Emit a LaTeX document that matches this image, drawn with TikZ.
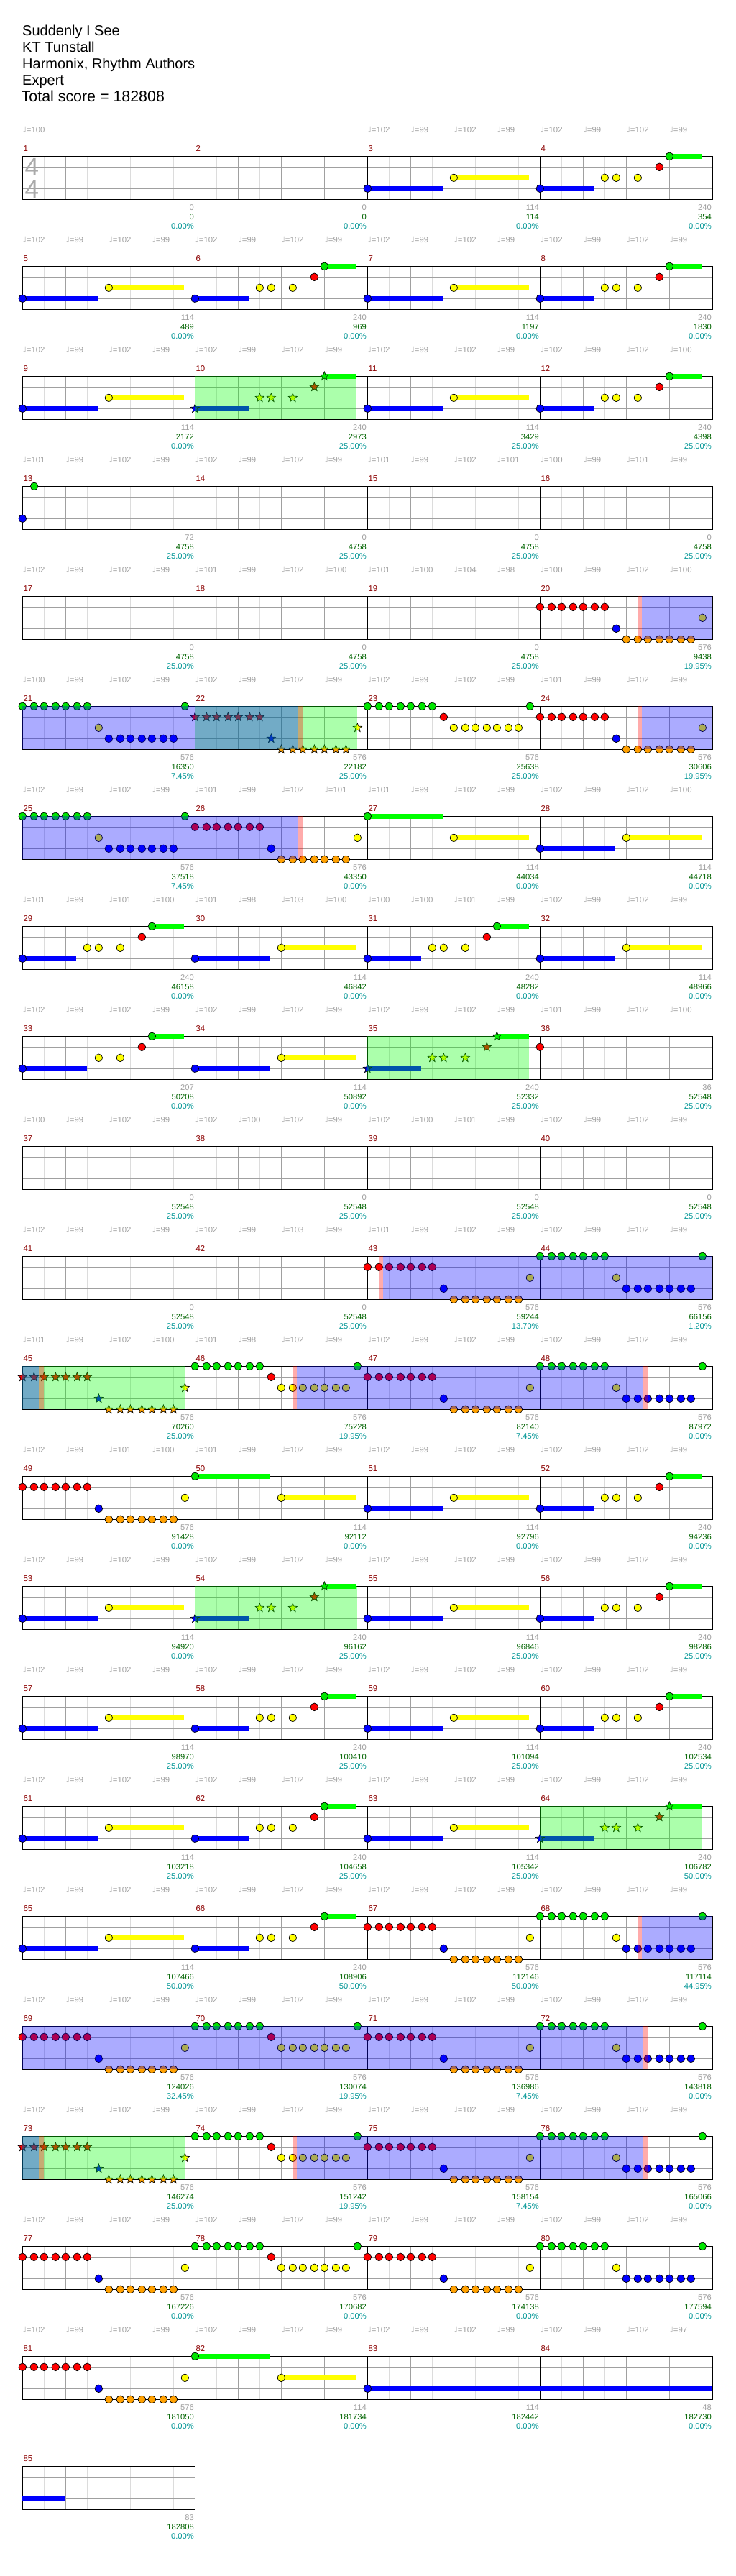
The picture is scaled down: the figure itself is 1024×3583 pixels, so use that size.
\documentclass[tikz,border=0pt]{standalone}
\usepackage{fontspec}
\setmainfont{Liberation Sans}
\newfontfamily\symf{DejaVu Sans}
\usetikzlibrary{shapes.geometric}
\definecolor{nG}{RGB}{0,230,0}
\definecolor{sG}{RGB}{0,255,0}
\definecolor{nR}{RGB}{255,0,0}
\definecolor{nY}{RGB}{255,255,0}
\definecolor{nB}{RGB}{0,0,255}
\definecolor{nO}{RGB}{255,160,0}
\definecolor{ovG}{RGB}{0,255,0}
\definecolor{ovB}{RGB}{0,0,255}
\definecolor{ovR}{RGB}{255,0,0}
\definecolor{gridD}{RGB}{160,160,160}
\definecolor{gridL}{RGB}{220,220,220}
\definecolor{mnum}{RGB}{139,0,0}
\definecolor{tgray}{RGB}{160,160,160}
\definecolor{tgreen}{RGB}{0,100,0}
\definecolor{tteal}{RGB}{0,150,150}
\definecolor{tsig}{RGB}{170,170,170}
\tikzset{
  notec/.style={circle,draw=black,line width=0.7pt,minimum size=10.6pt,inner sep=0pt},
  notes/.style={star,star points=5,star point ratio=2.4,draw=black,line width=0.6pt,minimum size=13pt,inner sep=0pt},
  gridl/.style={draw=gridL,line width=1pt},
  gridd/.style={draw=gridD,line width=1pt},
  gridk/.style={draw=black,line width=1pt},
  tempo/.style={anchor=base west,inner sep=0pt,text=tgray,font=\fontsize{11.4}{12}\selectfont},
  mnumst/.style={anchor=base west,inner sep=0pt,text=mnum,font=\fontsize{11.4}{12}\selectfont},
  numa/.style={anchor=base east,inner sep=0pt,text=tgray,font=\fontsize{11.2}{12}\selectfont},
  numb/.style={numa,text=tgreen},
  nump/.style={numa,text=tteal},
  titlest/.style={anchor=base west,inner sep=0pt,font=\fontsize{20}{24}\selectfont},
  timesig/.style={inner sep=0pt,text=tsig,font=\fontsize{35}{40}\selectfont},
}
% grid of one row with #1 measures
\newcommand\gridrow[1]{%
  \pgfmathtruncatemacro\gridW{240*#1}%
  \pgfmathtruncatemacro\nhalf{8*#1-1}%
  \foreach \k in {1,3,...,\nhalf} {\draw[gridl] (30*\k,0) -- (30*\k,60);}
  \foreach \l in {15,30,45} {\draw[gridd] (0,\l) -- (\gridW,\l);}
  \foreach \m in {1,...,#1} {\foreach \b in {1,2,3} {\draw[gridd] ({240*(\m-1)+60*\b},0) -- ++(0,60);}}
  \ifnum#1>1 \pgfmathtruncatemacro\nm{#1-1}\foreach \m in {1,...,\nm} {\draw[gridk] (240*\m,0) -- (240*\m,60);}\fi
  \draw[gridk] (0,0) rectangle (\gridW,60);
}
\newcommand\nt[3]{\node[notec,fill=#3] at ({#1},{15*#2}) {};}
\newcommand\sn[3]{\node[notes,fill=#3] at ({#1},{15*#2}) {};}
\newcommand\su[4]{\fill[#4] ({#1},{15*#3-3.5}) rectangle ({#2},{15*#3+3.5});}
\newcommand\runn[3]{\foreach \o in {0,16,30,46,60,76,90} {\nt{#1+\o}{#2}{#3}}}
\newcommand\runs[3]{\foreach \o in {0,16,30,46,60,76,90} {\sn{#1+\o}{#2}{#3}}}
% guitar-like patterns
\newcommand\PA[1]{\su{#1}{#1+104.7}{3}{nB}\su{#1+120}{#1+224.7}{2}{nY}\nt{#1}{3}{nB}\nt{#1+120}{2}{nY}}
\newcommand\PG[1]{\su{#1}{#1+104.7}{0}{sG}\su{#1+120}{#1+224.7}{2}{nY}\nt{#1}{0}{nG}\nt{#1+120}{2}{nY}}
\newcommand\PB[1]{\su{#1}{#1+74.7}{3}{nB}\su{#1+180}{#1+224.7}{0}{sG}\nt{#1}{3}{nB}\nt{#1+90}{2}{nY}\nt{#1+106}{2}{nY}\nt{#1+136}{2}{nY}\nt{#1+166}{1}{nR}\nt{#1+180}{0}{nG}}
\newcommand\PBs[1]{\su{#1}{#1+74.7}{3}{nB}\su{#1+180}{#1+224.7}{0}{sG}\sn{#1}{3}{nB}\sn{#1+90}{2}{nY}\sn{#1+106}{2}{nY}\sn{#1+136}{2}{nY}\sn{#1+166}{1}{nR}\sn{#1+180}{0}{nG}}
\newcommand\PBb[1]{\su{#1}{#1+89.3}{3}{nB}\su{#1+180}{#1+224.7}{0}{sG}\nt{#1}{3}{nB}\nt{#1+106}{2}{nY}\nt{#1+136}{2}{nY}\nt{#1+166}{1}{nR}\nt{#1+180}{0}{nG}}
% drum-like patterns
\newcommand\DA[5]{\runn{#1}{0}{nG}\nt{#1+226}{0}{nG}\nt{#1+106}{#2}{#3}\runn{#1+120}{#4}{#5}}
\newcommand\DB[1]{\runn{#1}{1}{nR}\nt{#1+106}{3}{nB}\runn{#1+120}{4}{nO}\nt{#1+226}{2}{nY}}
\newcommand\DBs[1]{\runs{#1}{1}{nR}\sn{#1+106}{3}{nB}\runs{#1+120}{4}{nO}\sn{#1+226}{2}{nY}}
% overlays
\newcommand\ovg[2]{\fill[ovG,opacity=0.33] ({#1},0) rectangle ({#2},60);}
\newcommand\ovb[2]{\fill[ovB,opacity=0.33] ({#1},0) rectangle ({#2},60);}
\newcommand\ovr[2]{\fill[ovR,opacity=0.33] ({#1},0) rectangle ({#2},60);}
% measure texts: col, number, a, b, pct
\newcommand\mt[5]{%
  \node[mnumst] (mn#2) at ({240*#1+1},-7.3) {#2};
  \node[numa] (ma#2) at ({240*#1+238.7},75.3) {#3};
  \node[numb] (mb#2) at ({240*#1+238.7},88.3) {#4};
  \node[nump] (mp#2) at ({240*#1+238.7},101.3) {#5};}
% tempo labels: row id, start index, list
\newcommand\tempos[3]{\foreach \v [count=\i from #2] in {#3} {\node[tempo] (tp#1-\i) at ({60*\i},-33) {{\symf ♩}=\v};}}
\begin{document}
\begin{tikzpicture}[x=1pt,y=-1pt]
\useasboundingbox (0,0) rectangle (1024,3583);
\fill[white] (0,0) rectangle (1024,3583);
% title
\node[titlest] (t1) at (31,49.3) {Suddenly I See};
\node[titlest] (t2) at (31,72.4) {KT Tunstall};
\node[titlest] (t3) at (31,95.5) {Harmonix, Rhythm Authors};
\node[titlest] (t4) at (31,118.6) {Expert};
\node[titlest,font=\fontsize{21.4}{24}\selectfont] (t5) at (29.5,141.7) {Total score = 182808};
% ---------- row 0
\begin{scope}[shift={(31.33,217.33)}]
\gridrow{4}
\node[timesig] (ts1) at (13,15.4) {4};
\node[timesig] (ts2) at (13,45.7) {4};
\PA{480}\PB{720}
\node[tempo] (tp0-0) at (0,-33) {{\symf ♩}=100};
\tempos{0}{8}{102,99,102,99,102,99,102,99}
\mt{0}{1}{0}{0}{0.00\%}\mt{1}{2}{0}{0}{0.00\%}\mt{2}{3}{114}{114}{0.00\%}\mt{3}{4}{240}{354}{0.00\%}
\end{scope}
% ---------- row 1
\begin{scope}[shift={(31.33,370.33)}]
\gridrow{4}
\PA{0}\PB{240}\PA{480}\PB{720}
\tempos{1}{0}{102,99,102,99,102,99,102,99,102,99,102,99,102,99,102,99}
\mt{0}{5}{114}{489}{0.00\%}\mt{1}{6}{240}{969}{0.00\%}\mt{2}{7}{114}{1197}{0.00\%}\mt{3}{8}{240}{1830}{0.00\%}
\end{scope}
% ---------- row 2
\begin{scope}[shift={(31.33,523.33)}]
\gridrow{4}
\PA{0}\PBs{240}\PA{480}\PB{720}
\ovg{240}{465}
\tempos{2}{0}{102,99,102,99,102,99,102,99,102,99,102,99,102,99,102,100}
\mt{0}{9}{114}{2172}{0.00\%}\mt{1}{10}{240}{2973}{25.00\%}\mt{2}{11}{114}{3429}{25.00\%}\mt{3}{12}{240}{4398}{25.00\%}
\end{scope}
% ---------- row 3
\begin{scope}[shift={(31.33,676.33)}]
\gridrow{4}
\nt{0}{3}{nB}\nt{16.3}{0}{nG}
\tempos{3}{0}{101,99,102,99,102,99,102,99,101,99,102,101,100,99,101,99}
\mt{0}{13}{72}{4758}{25.00\%}\mt{1}{14}{0}{4758}{25.00\%}\mt{2}{15}{0}{4758}{25.00\%}\mt{3}{16}{0}{4758}{25.00\%}
\end{scope}
% ---------- row 4
\begin{scope}[shift={(31.33,829.33)}]
\gridrow{4}
\DB{720}
\ovb{862}{960}\ovr{856}{862}
\tempos{4}{0}{102,99,102,99,101,99,102,100,101,100,104,98,100,99,102,100}
\mt{0}{17}{0}{4758}{25.00\%}\mt{1}{18}{0}{4758}{25.00\%}\mt{2}{19}{0}{4758}{25.00\%}\mt{3}{20}{576}{9438}{19.95\%}
\end{scope}
% ---------- row 5
\begin{scope}[shift={(31.33,982.33)}]
\gridrow{4}
\DA{0}{2}{nY}{3}{nB}\DBs{240}\DA{480}{1}{nR}{2}{nY}\DB{720}
\ovg{240}{465.3}
\ovb{0}{382.7}\ovb{862}{960}
\ovr{382.7}{389.3}\ovr{856}{862}
\tempos{5}{0}{100,99,102,99,102,99,102,99,102,99,102,99,101,99,102,99}
\mt{0}{21}{576}{16350}{7.45\%}\mt{1}{22}{576}{22182}{25.00\%}\mt{2}{23}{576}{25638}{25.00\%}\mt{3}{24}{576}{30606}{19.95\%}
\end{scope}
% ---------- row 6
\begin{scope}[shift={(31.33,1135.33)}]
\gridrow{4}
\DA{0}{2}{nY}{3}{nB}\DB{240}\PG{480}\PA{720}
\ovb{0}{382.7}\ovr{382.7}{389.3}
\tempos{6}{0}{102,99,102,99,101,99,102,101,101,99,102,99,102,99,102,100}
\mt{0}{25}{576}{37518}{7.45\%}\mt{1}{26}{576}{43350}{0.00\%}\mt{2}{27}{114}{44034}{0.00\%}\mt{3}{28}{114}{44718}{0.00\%}
\end{scope}
% ---------- row 7
\begin{scope}[shift={(31.33,1288.33)}]
\gridrow{4}
\PB{0}\PA{240}\PB{480}\PA{720}
\tempos{7}{0}{101,99,101,100,101,98,103,100,100,100,101,99,102,99,102,99}
\mt{0}{29}{240}{46158}{0.00\%}\mt{1}{30}{114}{46842}{0.00\%}\mt{2}{31}{240}{48282}{0.00\%}\mt{3}{32}{114}{48966}{0.00\%}
\end{scope}
% ---------- row 8
\begin{scope}[shift={(31.33,1441.33)}]
\gridrow{4}
\PBb{0}\PA{240}\PBs{480}\nt{720}{1}{nR}
\ovg{480}{704.3}
\tempos{8}{0}{102,99,102,99,102,99,102,99,102,99,102,99,101,99,102,100}
\mt{0}{33}{207}{50208}{0.00\%}\mt{1}{34}{114}{50892}{0.00\%}\mt{2}{35}{240}{52332}{25.00\%}\mt{3}{36}{36}{52548}{25.00\%}
\end{scope}
% ---------- row 9
\begin{scope}[shift={(31.33,1594.33)}]
\gridrow{4}
\tempos{9}{0}{100,99,102,99,102,100,102,99,102,100,101,99,102,99,102,99}
\mt{0}{37}{0}{52548}{25.00\%}\mt{1}{38}{0}{52548}{25.00\%}\mt{2}{39}{0}{52548}{25.00\%}\mt{3}{40}{0}{52548}{25.00\%}
\end{scope}
% ---------- row 10
\begin{scope}[shift={(31.33,1747.33)}]
\gridrow{4}
\DB{480}\DA{720}{2}{nY}{3}{nB}
\ovb{501.3}{960}\ovr{496}{501.3}
\tempos{10}{0}{102,99,102,99,102,99,103,99,101,99,102,99,102,99,102,99}
\mt{0}{41}{0}{52548}{25.00\%}\mt{1}{42}{0}{52548}{25.00\%}\mt{2}{43}{576}{59244}{13.70\%}\mt{3}{44}{576}{66156}{1.20\%}
\end{scope}
% ---------- row 11
\begin{scope}[shift={(31.33,1900.33)}]
\gridrow{4}
\DBs{0}\DA{240}{1}{nR}{2}{nY}\DB{480}\DA{720}{2}{nY}{3}{nB}
\ovg{0}{225.3}
\ovb{0}{22.7}\ovb{382}{862.7}
\ovr{22.7}{30}\ovr{376}{382}\ovr{862.7}{870}
\tempos{11}{0}{101,99,102,100,101,98,102,99,102,99,102,99,102,99,102,99}
\mt{0}{45}{576}{70260}{25.00\%}\mt{1}{46}{576}{75228}{19.95\%}\mt{2}{47}{576}{82140}{7.45\%}\mt{3}{48}{576}{87972}{0.00\%}
\end{scope}
% ---------- row 12
\begin{scope}[shift={(31.33,2053.33)}]
\gridrow{4}
\DB{0}\PG{240}\PA{480}\PB{720}
\tempos{12}{0}{102,99,101,100,101,99,102,99,102,99,102,99,102,99,102,99}
\mt{0}{49}{576}{91428}{0.00\%}\mt{1}{50}{114}{92112}{0.00\%}\mt{2}{51}{114}{92796}{0.00\%}\mt{3}{52}{240}{94236}{0.00\%}
\end{scope}
% ---------- row 13
\begin{scope}[shift={(31.33,2206.33)}]
\gridrow{4}
\PA{0}\PBs{240}\PA{480}\PB{720}
\ovg{240}{465.3}
\tempos{13}{0}{102,99,102,99,102,99,102,99,102,99,102,99,102,99,102,99}
\mt{0}{53}{114}{94920}{0.00\%}\mt{1}{54}{240}{96162}{25.00\%}\mt{2}{55}{114}{96846}{25.00\%}\mt{3}{56}{240}{98286}{25.00\%}
\end{scope}
% ---------- row 14
\begin{scope}[shift={(31.33,2359.33)}]
\gridrow{4}
\PA{0}\PB{240}\PA{480}\PB{720}
\tempos{14}{0}{102,99,102,99,102,99,102,99,102,99,102,99,102,99,102,99}
\mt{0}{57}{114}{98970}{25.00\%}\mt{1}{58}{240}{100410}{25.00\%}\mt{2}{59}{114}{101094}{25.00\%}\mt{3}{60}{240}{102534}{25.00\%}
\end{scope}
% ---------- row 15
\begin{scope}[shift={(31.33,2512.33)}]
\gridrow{4}
\PA{0}\PB{240}\PA{480}\PBs{720}
\ovg{720}{945.3}
\tempos{15}{0}{102,99,102,99,102,99,102,99,102,99,102,99,102,99,102,99}
\mt{0}{61}{114}{103218}{25.00\%}\mt{1}{62}{240}{104658}{25.00\%}\mt{2}{63}{114}{105342}{25.00\%}\mt{3}{64}{240}{106782}{50.00\%}
\end{scope}
% ---------- row 16
\begin{scope}[shift={(31.33,2665.33)}]
\gridrow{4}
\PA{0}\PB{240}\DB{480}\DA{720}{2}{nY}{3}{nB}
\ovb{862}{960}\ovr{856}{862}
\tempos{16}{0}{102,99,102,99,102,99,102,99,102,99,102,99,102,99,102,99}
\mt{0}{65}{114}{107466}{50.00\%}\mt{1}{66}{240}{108906}{50.00\%}\mt{2}{67}{576}{112146}{50.00\%}\mt{3}{68}{576}{117114}{44.95\%}
\end{scope}
% ---------- row 17
\begin{scope}[shift={(31.33,2818.33)}]
\gridrow{4}
\DB{0}\DA{240}{1}{nR}{2}{nY}\DB{480}\DA{720}{2}{nY}{3}{nB}
\ovb{0}{862.7}\ovr{862.7}{870}
\tempos{17}{0}{102,99,102,99,102,99,102,99,102,99,102,99,102,99,102,99}
\mt{0}{69}{576}{124026}{32.45\%}\mt{1}{70}{576}{130074}{19.95\%}\mt{2}{71}{576}{136986}{7.45\%}\mt{3}{72}{576}{143818}{0.00\%}
\end{scope}
% ---------- row 18
\begin{scope}[shift={(31.33,2971.33)}]
\gridrow{4}
\DBs{0}\DA{240}{1}{nR}{2}{nY}\DB{480}\DA{720}{2}{nY}{3}{nB}
\ovg{0}{225.3}
\ovb{0}{22.7}\ovb{382}{862.7}
\ovr{22.7}{30}\ovr{376}{382}\ovr{862.7}{870}
\tempos{18}{0}{102,99,102,99,102,99,102,99,102,99,102,99,102,99,102,99}
\mt{0}{73}{576}{146274}{25.00\%}\mt{1}{74}{576}{151242}{19.95\%}\mt{2}{75}{576}{158154}{7.45\%}\mt{3}{76}{576}{165066}{0.00\%}
\end{scope}
% ---------- row 19
\begin{scope}[shift={(31.33,3124.33)}]
\gridrow{4}
\DB{0}\DA{240}{1}{nR}{2}{nY}\DB{480}\DA{720}{2}{nY}{3}{nB}
\tempos{19}{0}{102,99,102,99,102,99,102,99,102,99,102,99,102,99,102,99}
\mt{0}{77}{576}{167226}{0.00\%}\mt{1}{78}{576}{170682}{0.00\%}\mt{2}{79}{576}{174138}{0.00\%}\mt{3}{80}{576}{177594}{0.00\%}
\end{scope}
% ---------- row 20
\begin{scope}[shift={(31.33,3277.33)}]
\gridrow{4}
\DB{0}\PG{240}\su{480}{960}{3}{nB}\nt{480}{3}{nB}
\tempos{20}{0}{102,99,102,99,102,99,102,99,102,99,102,99,102,99,102,97}
\mt{0}{81}{576}{181050}{0.00\%}\mt{1}{82}{114}{181734}{0.00\%}\mt{2}{83}{114}{182442}{0.00\%}\mt{3}{84}{48}{182730}{0.00\%}
\end{scope}
% ---------- row 21
\begin{scope}[shift={(31.33,3430.33)}]
\gridrow{1}
\su{0}{60}{3}{nB}
\mt{0}{85}{83}{182808}{0.00\%}
\end{scope}
\end{tikzpicture}
\end{document}
